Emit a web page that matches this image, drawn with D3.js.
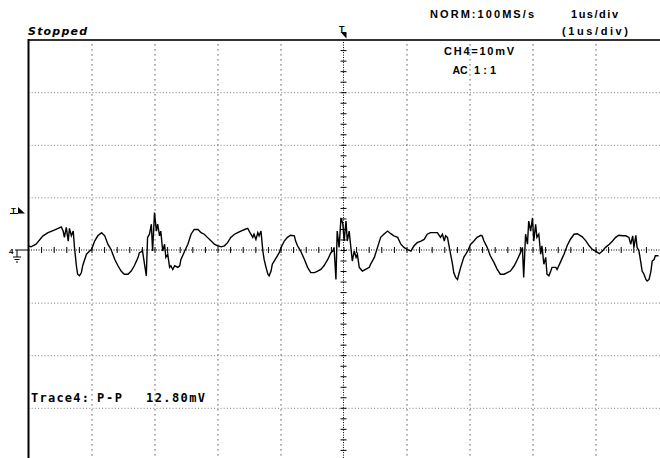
<!DOCTYPE html>
<html>
<head>
<meta charset="utf-8">
<script src="https://cdn.jsdelivr.net/npm/d3@7"></script>
<style>
  body { margin: 0; background: #fff; }
  svg { display: block; }
  .lbl { font-family: "Liberation Sans", Arial, sans-serif; font-weight: bold; fill: #000; }
  .mono { font-family: "DejaVu Sans Mono", "Liberation Mono", monospace; font-weight: bold; fill: #000; }
</style>
</head>
<body>
<div id="scope"></div>
<script>
// CH4 trace, time in us, amplitude in mV (10 mV/div, 1 us/div)
var timeUs = [
  0.00, 0.04, 0.12, 0.23, 0.31, 0.39, 0.47, 0.52, 0.55, 0.57, 0.60, 0.63, 0.65, 0.68, 0.71, 0.73,
  0.76, 0.78, 0.81, 0.84, 0.86, 0.92, 0.97, 1.00, 1.05, 1.10, 1.16, 1.21, 1.26, 1.31, 1.37, 1.42,
  1.47, 1.52, 1.58, 1.63, 1.68, 1.74, 1.76, 1.81, 1.87, 1.89, 1.92, 1.95, 1.97, 2.00, 2.03, 2.05,
  2.08, 2.10, 2.13, 2.16, 2.18, 2.21, 2.24, 2.26, 2.29, 2.32, 2.37, 2.40, 2.42, 2.48, 2.53, 2.58,
  2.63, 2.69, 2.74, 2.79, 2.84, 2.90, 2.95, 3.00, 3.06, 3.11, 3.16, 3.21, 3.27, 3.32, 3.37, 3.43,
  3.48, 3.53, 3.56, 3.58, 3.61, 3.64, 3.66, 3.69, 3.72, 3.74, 3.77, 3.80, 3.82, 3.85, 3.87, 3.90,
  3.95, 3.98, 4.01, 4.06, 4.11, 4.16, 4.22, 4.24, 4.27, 4.32, 4.38, 4.43, 4.48, 4.54, 4.59, 4.64,
  4.69, 4.75, 4.80, 4.83, 4.85, 4.88, 4.90, 4.93, 4.96, 4.99, 5.01, 5.04, 5.06, 5.09, 5.12, 5.14,
  5.17, 5.20, 5.22, 5.25, 5.30, 5.35, 5.41, 5.43, 5.49, 5.54, 5.59, 5.64, 5.70, 5.75, 5.80, 5.86,
  5.91, 5.96, 6.01, 6.07, 6.12, 6.17, 6.23, 6.28, 6.33, 6.38, 6.44, 6.49, 6.54, 6.57, 6.60, 6.62,
  6.65, 6.68, 6.70, 6.73, 6.75, 6.78, 6.81, 6.83, 6.86, 6.91, 6.97, 7.02, 7.07, 7.12, 7.18, 7.20,
  7.23, 7.28, 7.33, 7.39, 7.44, 7.49, 7.55, 7.60, 7.65, 7.71, 7.76, 7.81, 7.84, 7.86, 7.89, 7.92,
  7.94, 7.97, 8.00, 8.02, 8.05, 8.07, 8.10, 8.13, 8.15, 8.18, 8.21, 8.23, 8.26, 8.29, 8.31, 8.37,
  8.39, 8.44, 8.50, 8.55, 8.60, 8.66, 8.71, 8.79, 8.85, 8.90, 8.95, 9.00, 9.06, 9.11, 9.16, 9.22,
  9.27, 9.32, 9.37, 9.43, 9.48, 9.53, 9.56, 9.59, 9.61, 9.64, 9.66, 9.69, 9.72, 9.74, 9.77, 9.80,
  9.82, 9.85, 9.88, 9.90, 9.93, 9.95, 10.00
];
var ch4mV = [
  0.8, 0.6, 1.1, 2.7, 3.3, 3.7, 4.1, 4.4, 3.6, 2.4, 4.3, 1.7, 4.1, 2.7, 3.6, 0.5,
  -3.0, -4.6, -4.9, -4.3, -3.0, -0.8, -0.2, 0.1, 1.7, 2.7, 3.3, 2.7, 1.1, 0.1, -1.8, -3.0,
  -4.0, -4.6, -4.6, -4.0, -3.0, -1.4, -0.5, -0.2, -4.9, 2.4, 3.0, 4.9, -0.2, 7.1, 3.6, 4.9,
  2.7, 3.6, -0.2, 1.1, -1.4, -0.8, -3.3, -3.0, -3.7, -3.0, -3.3, -3.0, -1.8, -0.2, 1.1, 3.0,
  3.9, 3.9, 3.3, 3.0, 2.4, 1.7, 1.1, 0.8, 0.6, 0.8, 1.4, 2.4, 3.0, 3.3, 3.6, 3.9,
  4.1, 3.0, 2.4, 3.0, 2.0, 3.3, 2.7, 3.6, -0.2, -1.8, -3.3, -4.6, -4.9, -4.0, -2.7, -2.1,
  -1.1, -0.5, 0.5, 1.7, 2.4, 2.8, 2.7, 1.7, 0.8, -0.2, -1.8, -3.3, -4.3, -4.3, -4.0, -3.7,
  -3.0, -1.8, -0.5, -0.2, 0.5, -5.6, 3.6, 0.5, 6.1, 4.9, 1.7, 5.5, 1.7, 3.6, 0.1, -2.1,
  -0.2, -1.4, -0.8, -3.3, -4.0, -3.7, -3.3, -2.7, -1.4, 0.5, 2.4, 3.0, 3.6, 3.1, 2.7, 2.4,
  1.1, 0.5, 0.1, -0.2, 0.8, 1.4, 1.7, 2.0, 3.0, 3.3, 3.3, 3.3, 2.4, 3.0, 1.7, 2.7,
  2.4, 0.5, -0.8, -2.7, -4.3, -5.2, -5.6, -4.6, -3.3, -1.4, -0.2, 1.1, 1.7, 2.4, 2.8, 2.7,
  1.7, 0.5, -1.1, -2.4, -3.7, -4.6, -4.6, -4.3, -4.0, -3.0, -1.8, -0.5, 0.5, -5.2, 3.0, 1.1,
  5.5, 3.6, 6.1, 1.7, 4.9, 2.4, 3.0, -0.8, 0.8, -2.7, -1.4, -4.6, -4.9, -4.0, -3.3, -3.3,
  -3.7, -2.4, -0.8, 0.8, 2.0, 3.0, 3.1, 2.5, 1.7, 0.8, 0.1, -0.2, -0.7, -0.2, 0.5, 1.1,
  1.7, 2.4, 2.8, 2.7, 2.7, 2.4, 1.1, 2.7, 0.5, 2.8, 0.5, -0.2, -2.4, -4.0, -4.6, -5.6,
  -5.9, -5.6, -4.0, -2.1, -1.8, -1.1, -1.1
];
var gridTimes = [1, 2, 3, 4, 6, 7, 8, 9];
var gridVolts = [-30, -20, -10, 10, 20, 30];
var minorTimes = d3.range(0.2, 10, 0.2);
var minorVolts = d3.range(-38, 40, 2);

var width = 660, height = 458;

var svg = d3.select("#scope").append("svg")
    .attr("width", width)
    .attr("height", height)
    .style("background-color", "#fff");

var x = d3.scaleLinear().domain([0, 10]).range([28.5, 658.5]);
var y = d3.scaleLinear().domain([-40, 40]).range([460.4, 39.6]);

// dotted graticule
svg.append("g")
    .attr("transform", "translate(0," + y(-40) + ")")
    .call(d3.axisBottom(x).tickValues(gridTimes).tickSize(-(y(-40) - y(40))).tickFormat(""))
    .call(function(g) { g.select(".domain").remove(); })
    .selectAll("line")
    .attr("stroke", "#000")
    .attr("stroke-width", 1)
    .attr("stroke-dasharray", "1,4");

svg.append("g")
    .attr("transform", "translate(" + x(0) + ",0)")
    .call(d3.axisLeft(y).tickValues(gridVolts).tickSize(-(x(10) - x(0)) - 2).tickFormat(""))
    .call(function(g) { g.select(".domain").remove(); })
    .selectAll("line")
    .attr("stroke", "#777")
    .attr("stroke-width", 1)
    .attr("stroke-dasharray", "1,2.2");

// centre lines with minor ticks
svg.append("line")
    .attr("x1", x(0)).attr("x2", x(10) + 2)
    .attr("y1", y(0)).attr("y2", y(0))
    .attr("stroke", "#000").attr("stroke-dasharray", "1,1.5");
svg.append("line")
    .attr("x1", x(5)).attr("x2", x(5))
    .attr("y1", y(40)).attr("y2", height)
    .attr("stroke", "#000").attr("stroke-dasharray", "1,1.5");

svg.append("g")
    .attr("transform", "translate(0," + (y(0) - 3) + ")")
    .call(d3.axisBottom(x).tickValues(minorTimes).tickSize(6).tickFormat(""))
    .call(function(g) { g.select(".domain").remove(); })
    .selectAll("line").attr("stroke", "#000");

svg.append("g")
    .attr("transform", "translate(" + (x(5) + 3) + ",0)")
    .call(d3.axisLeft(y).tickValues(minorVolts).tickSize(6).tickFormat(""))
    .call(function(g) { g.select(".domain").remove(); })
    .selectAll("line").attr("stroke", "#000");

// frame
svg.append("line")
    .attr("x1", x(0)).attr("x2", width)
    .attr("y1", 40).attr("y2", 40)
    .attr("stroke", "#333").attr("stroke-width", 2);
svg.append("line")
    .attr("x1", x(0)).attr("x2", x(0))
    .attr("y1", 39).attr("y2", height)
    .attr("stroke", "#000").attr("stroke-width", 2);

// trace
var trace = d3.zip(timeUs, ch4mV);
var line = d3.line()
    .x(function(d) { return x(d[0]); })
    .y(function(d) { return y(d[1]); });

svg.append("path")
    .datum(trace)
    .attr("fill", "none")
    .attr("stroke", "#000")
    .attr("stroke-width", 1.4)
    .attr("stroke-linejoin", "miter")
    .attr("d", line);

// markers: trigger position (top), trigger level (left), ground (left)
svg.append("text").attr("class", "lbl")
    .attr("x", x(5) - 4.5).attr("y", 32)
    .attr("font-size", 9).text("T");
svg.append("path")
    .attr("d", "M" + (x(5) - 3) + ",32 L" + (x(5) + 3) + ",32 L" + (x(5) + 3) + ",38.5 Z")
    .attr("fill", "#000");

svg.append("text").attr("class", "lbl")
    .attr("x", 11).attr("y", 213)
    .attr("font-size", 8).text("T");
svg.append("line")
    .attr("x1", 10).attr("x2", 18).attr("y1", 213.5).attr("y2", 213.5)
    .attr("stroke", "#000");
svg.append("path")
    .attr("d", "M18,207 L18,213.5 L25,213.5 Z")
    .attr("fill", "#000");

svg.append("text").attr("class", "lbl")
    .attr("x", 9).attr("y", 254)
    .attr("font-size", 8).text("4");
svg.append("path")
    .attr("d", "M15," + y(0) + " L" + x(0) + "," + y(0) + " M17," + y(0) + " L17,257 M13,257 L21,257 M14.5,259.5 L19.5,259.5 M16,262 L18,262")
    .attr("fill", "none").attr("stroke", "#000").attr("stroke-width", 1);

// status texts
svg.append("text")
    .attr("x", 28).attr("y", 35)
    .attr("font-family", "DejaVu Sans, sans-serif")
    .attr("font-weight", "bold").attr("font-style", "italic")
    .attr("font-size", 11).attr("textLength", 59)
    .text("Stopped");

svg.append("text").attr("class", "lbl")
    .attr("x", 430).attr("y", 18).attr("font-size", 11)
    .attr("textLength", 104).text("NORM:100MS/s");
svg.append("text").attr("class", "lbl")
    .attr("x", 571).attr("y", 18).attr("font-size", 11)
    .attr("textLength", 47).text("1us/div");
svg.append("text").attr("class", "lbl")
    .attr("x", 562).attr("y", 35).attr("font-size", 11)
    .attr("textLength", 66).text("(1us/div)");

svg.append("text").attr("class", "lbl")
    .attr("x", 444).attr("y", 54.5).attr("font-size", 11)
    .attr("textLength", 70).text("CH4=10mV");
svg.append("text").attr("class", "lbl")
    .attr("x", 452.5).attr("y", 73.5).attr("font-size", 10.5)
    .text("AC");
svg.append("text").attr("class", "lbl")
    .attr("x", 474).attr("y", 73.5).attr("font-size", 11)
    .attr("textLength", 22).text("1:1");

svg.append("text").attr("class", "mono")
    .attr("x", 31).attr("y", 401.5).attr("font-size", 12)
    .attr("textLength", 58).text("Trace4:");
svg.append("text").attr("class", "mono")
    .attr("x", 97).attr("y", 401.5).attr("font-size", 12)
    .attr("textLength", 25).text("P-P");
svg.append("text").attr("class", "mono")
    .attr("x", 146).attr("y", 401.5).attr("font-size", 12)
    .attr("textLength", 59).text("12.80mV");
</script>
</body>
</html>
